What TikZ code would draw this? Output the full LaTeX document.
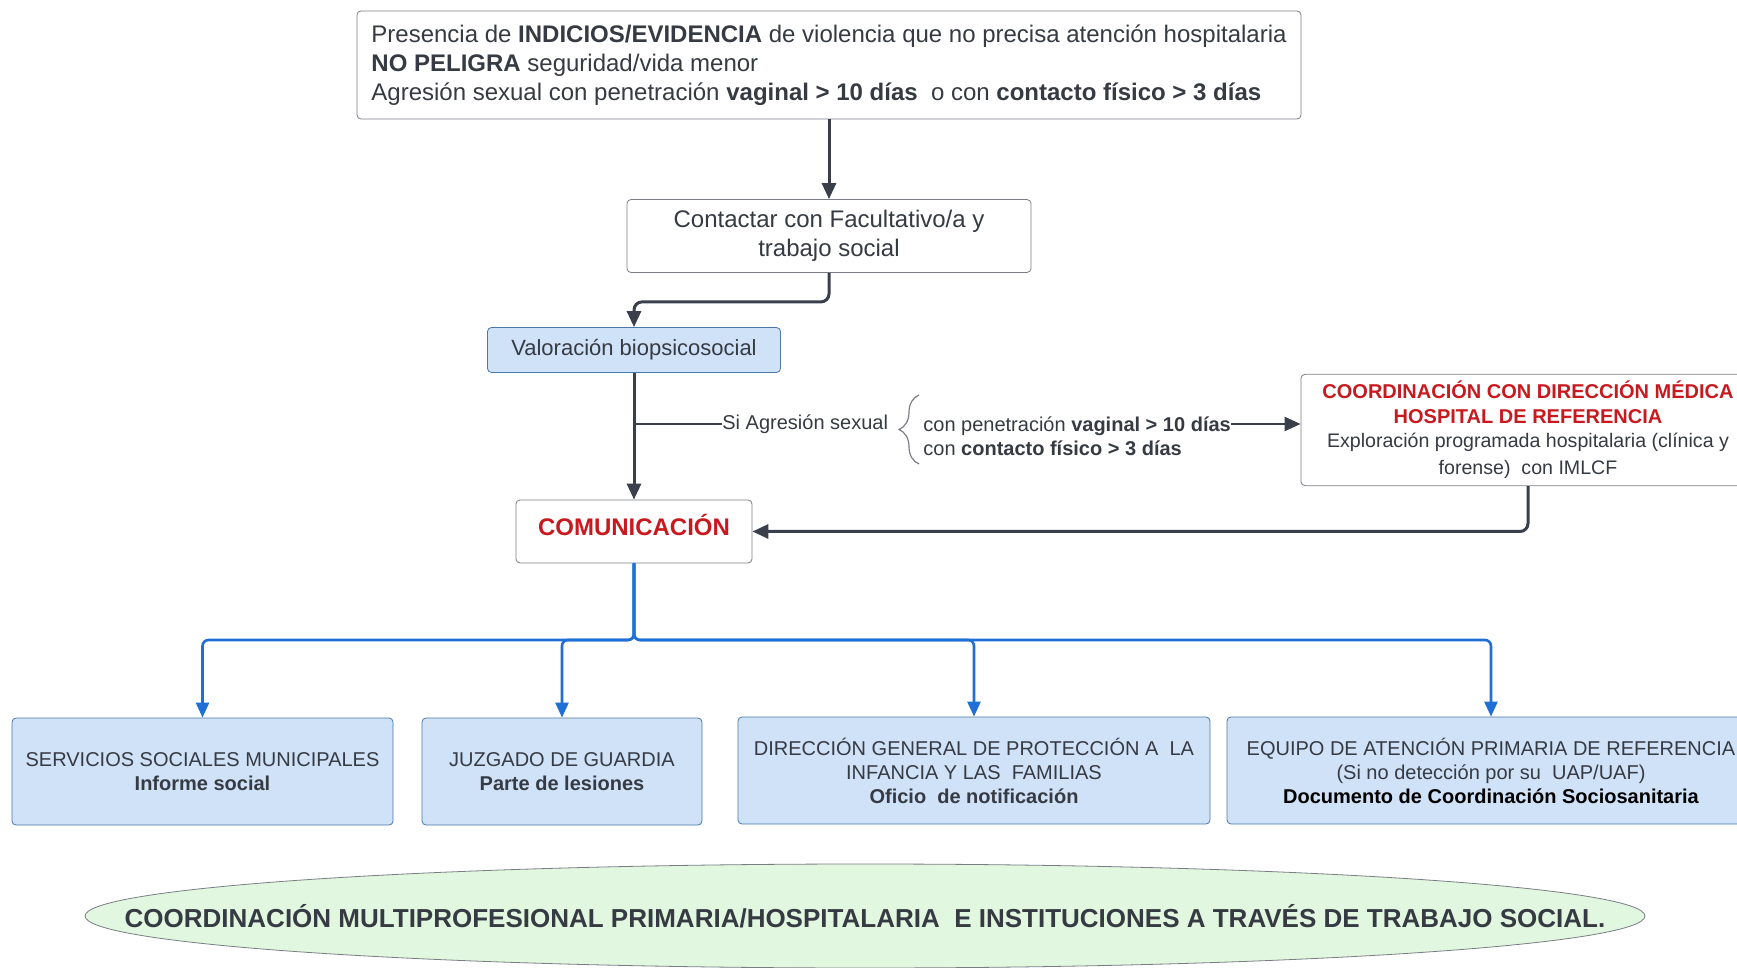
\documentclass[tikz,border=0pt]{standalone}
\usepackage{fontspec}
\setmainfont{Liberation Sans}
\usetikzlibrary{arrows.meta,shapes.geometric,decorations.pathreplacing}

\definecolor{txtgray}{HTML}{363A42}
\definecolor{linegray}{HTML}{3B3F4B}
\definecolor{boxgray}{HTML}{7A7D84}
\definecolor{boxblue}{HTML}{CFE2F8}
\definecolor{bordblue}{HTML}{4B78A8}
\definecolor{connblue}{HTML}{1F6FD6}
\definecolor{alertred}{HTML}{C8191E}
\definecolor{ovalgreen}{HTML}{E2F7DF}

\begin{document}
\begin{tikzpicture}[x=0.5pt,y=-0.5pt,text=txtgray,
    conn/.style={draw=linegray, line width=1.5pt, -{Triangle[width=7pt,length=8pt]}},
    bconn/.style={draw=connblue, line width=1.3pt, rounded corners=3pt, -{Triangle[width=6.5pt,length=7.5pt]}}]

        \useasboundingbox (0,0) rectangle (1737,968);

        \begin{scope}[every node/.style={draw=boxgray, fill=white, rounded corners=2pt, align=center}]
          \node[minimum width=472pt, minimum height=54pt, align=left,
                font=\fontsize{12}{14.5}\selectfont] (1) at (829,65)
            {Presencia de \textbf{INDICIOS/EVIDENCIA} de violencia que no precisa atención hospitalaria\\
             \textbf{NO PELIGRA} seguridad/vida menor\\
             Agresión sexual con penetración \textbf{vaginal > 10 días}~ o con \textbf{contacto físico > 3 días}};
          \node[minimum width=202pt, minimum height=36.5pt,
                font=\fontsize{12}{14.5}\selectfont] (2) at (829,236)
            {Contactar con Facultativo/a y\\ trabajo social};
          \node[fill=boxblue, draw=bordblue, minimum width=146.5pt, minimum height=22.5pt,
                font=\fontsize{11}{12}\selectfont] (3) at (634,350) {Valoración biopsicosocial};
          \node[minimum width=227pt, minimum height=54pt,
                font=\fontsize{9.8}{12.3}\selectfont] (4) at (1528,430)
            {\textcolor{alertred}{\bfseries\fontsize{10}{12.3}\selectfont COORDINACIÓN CON DIRECCIÓN MÉDICA}\\
             \textcolor{alertred}{\bfseries\fontsize{10}{12.3}\selectfont HOSPITAL DE REFERENCIA}\\
             Exploración programada hospitalaria (clínica y\\[1.2pt] forense)~ con IMLCF};
          \node[minimum width=118pt, minimum height=31.5pt, text depth=6.5pt,
                font=\fontsize{12}{14}\selectfont\bfseries, text=alertred] (5) at (634,531.5) {COMUNICACIÓN};
        \end{scope}

        \begin{scope}[every node/.style={draw=bordblue, fill=boxblue, rounded corners=2pt, align=center,
                      minimum height=53.5pt, font=\fontsize{10}{12}\selectfont}]
          \node[minimum width=190.5pt] (6) at (202.5,771.5)
            {SERVICIOS SOCIALES MUNICIPALES\\ \textbf{Informe social}};
          \node[minimum width=140pt] (7) at (562,771.5)
            {JUZGADO DE GUARDIA\\ \textbf{Parte de lesiones}};
          \node[minimum width=236pt] (8) at (974,770.5)
            {DIRECCIÓN GENERAL DE PROTECCIÓN A~ LA\\ INFANCIA Y LAS~ FAMILIAS\\ \textbf{Oficio~ de notificación}};
          \node[minimum width=264pt] (9) at (1491,770.5)
            {EQUIPO DE ATENCIÓN PRIMARIA DE REFERENCIA\\ (Si no detección por su~ UAP/UAF)\\
             \textcolor{black}{\bfseries Documento de Coordinación Sociosanitaria}};
        \end{scope}

        \begin{scope}[every node/.style={inner sep=0pt, font=\fontsize{10}{12}\selectfont}]
          \node[anchor=west] (t1) at (722,424) {Si Agresión sexual};
          \node[anchor=west, align=left] (t2) at (923,436)
            {con penetración \textbf{vaginal > 10 días}\\ con \textbf{contacto físico > 3 días}};
          \coordinate (b1) at (919,464);
          \coordinate (b2) at (919,395);
        \end{scope}

        \node[ellipse, draw=boxgray, fill=ovalgreen, minimum width=780pt, minimum height=52pt] (10) at (865,916) {};
        \node[font=\fontsize{13}{14}\selectfont\bfseries] (t3) at (10) 
          {COORDINACIÓN MULTIPROFESIONAL PRIMARIA/HOSPITALARIA~ E INSTITUCIONES A TRAVÉS DE TRABAJO SOCIAL.};

        \coordinate (bus) at (634,640);

        \begin{scope}[every edge/.style={conn}]
          \path (1) edge (2);
          \path (3) edge (5);
          \path (t2.east |- t1) edge[line width=1.1pt] (t1 -| 4.west);
        \end{scope}
        \draw[conn, rounded corners=4pt] (2.south) -- ++(0,29) -| (3.north);
        \draw[conn, rounded corners=4pt] (4.south) |- (5.east);
        \draw[draw=linegray, line width=1.1pt] (3.south |- t1) -- (t1.west);
        \draw[draw=boxgray, line width=0.6pt, decorate, decoration={brace, amplitude=10pt}] (b1) -- (b2);

        \draw[bconn] (5.south) -- (bus) -| (6.north);
        \draw[bconn] (5.south) -- (bus) -| (7.north);
        \draw[bconn] (5.south) -- (bus) -| (8.north);
        \draw[bconn] (5.south) -- (bus) -| (9.north);

      \end{tikzpicture}
\end{document}
